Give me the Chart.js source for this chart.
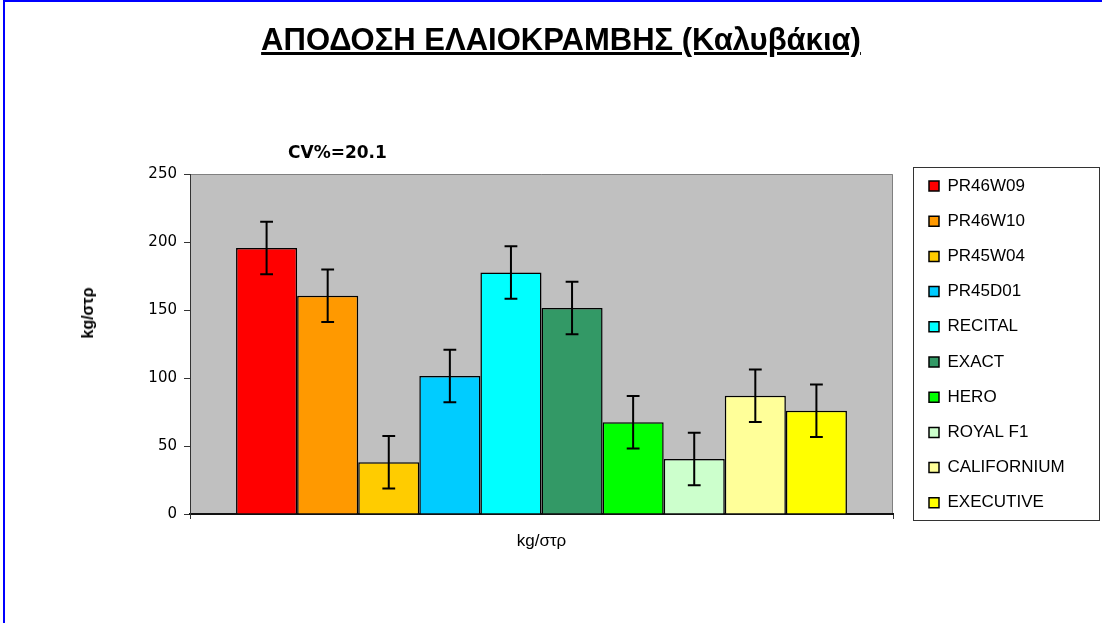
<!DOCTYPE html>
<html><head><meta charset="utf-8">
<script src="https://cdn.jsdelivr.net/npm/chart.js@4.4.1/dist/chart.umd.min.js"></script>
<style>
html,body{margin:0;padding:0;background:#fff;width:1102px;height:623px;overflow:hidden;}
#frame{position:absolute;left:3px;top:0;width:1200px;height:700px;border-left:2px solid #0000ff;border-top:2px solid #0000ff;}
#wrap{position:absolute;left:0;top:0;width:1102px;height:623px;}
#title{position:absolute;left:0;width:1122px;top:23.7px;text-align:center;font:bold 31px 'Liberation Sans',Arial,sans-serif;line-height:31px;text-decoration:underline;text-decoration-thickness:3px;text-underline-offset:2px;white-space:nowrap;color:#000;}
#cv{position:absolute;left:288px;top:144.3px;font:bold 17px 'DejaVu Sans',sans-serif;line-height:17px;white-space:nowrap;color:#000;}
#ytitle{position:absolute;left:88px;top:313px;transform:translate(-50%,-50%) rotate(-90deg);font:bold 16px 'Liberation Sans',Arial,sans-serif;white-space:nowrap;color:#000;}
</style></head>
<body>
<div id="frame"></div>
<div id="wrap"><canvas id="c" width="1102" height="623"></canvas></div>
<div id="title"></div>
<div id="cv"></div>
<div id="ytitle"></div>
<script>
const chartTitle = 'ΑΠΟΔΟΣΗ ΕΛΑΙΟΚΡΑΜΒΗΣ (Καλυβάκια)';
const cvLabel = 'CV%=20.1';
const yAxisTitle = 'kg/στρ';
const categories = ['kg/στρ'];
const varieties = ['PR46W09','PR46W10','PR45W04','PR45D01','RECITAL','EXACT','HERO','ROYAL F1','CALIFORNIUM','EXECUTIVE'];
const yields = [195.5, 160.5, 38, 101.5, 177.5, 151.5, 67.5, 40.5, 87, 76];
const errors = [19.3, 19.3, 19.3, 19.3, 19.3, 19.3, 19.3, 19.3, 19.3, 19.3];
const colors = ['#FF0000','#FF9900','#FFCC00','#00CCFF','#00FFFF','#339966','#00FF00','#CCFFCC','#FFFF99','#FFFF00'];
const yMin = 0, yMax = 250, yStep = 50;

document.getElementById('title').textContent = chartTitle;
document.getElementById('cv').textContent = cvLabel;
document.getElementById('ytitle').textContent = yAxisTitle;

Chart.defaults.font.family = "'Liberation Sans', Arial, sans-serif";
Chart.defaults.color = '#000';

const AREA = {left:190, right:893, top:174, bottom:514};
const LEG_PAD = 18.2;
const LEG_LEFT = 910.8;
const TOP_PAD = 65.8;

const bgPlugin = {
  id:'plotbg',
  beforeDraw(chart){
    const {ctx, chartArea:a} = chart;
    ctx.save();
    ctx.fillStyle = '#C0C0C0';
    ctx.fillRect(a.left, a.top, a.right-a.left, a.bottom-a.top);
    ctx.strokeStyle = '#808080';
    ctx.lineWidth = 1;
    ctx.beginPath();
    ctx.moveTo(a.left, a.top+0.5); ctx.lineTo(a.right-0.5, a.top+0.5); ctx.lineTo(a.right-0.5, a.bottom);
    ctx.stroke();
    ctx.restore();
  }
};
const errPlugin = {
  id:'errbars',
  afterDatasetsDraw(chart){
    const ctx = chart.ctx, ys = chart.scales.y;
    chart.data.datasets.forEach((ds,i)=>{
      const meta = chart.getDatasetMeta(i);
      meta.data.forEach((bar,j)=>{
        const v = ds.data[j], e = errors[i];
        const x = bar.x, yt = ys.getPixelForValue(v+e), yb = ys.getPixelForValue(v-e);
        ctx.save();
        ctx.strokeStyle = '#000'; ctx.lineWidth = 2;
        ctx.beginPath();
        ctx.moveTo(x, yt); ctx.lineTo(x, yb);
        ctx.moveTo(x-6.4, yt); ctx.lineTo(x+6.4, yt);
        ctx.moveTo(x-6.4, yb); ctx.lineTo(x+6.4, yb);
        ctx.stroke();
        ctx.restore();
      });
    });
  }
};
const legBorder = {
  id:'legborder',
  afterDraw(chart){
    const lg = chart.legend; if(!lg || !lg.legendHitBoxes.length) return;
    const hb = lg.legendHitBoxes;
    const ih = 17;
    const top = Math.round(hb[0].top + ih/2 - 18.7) + 0.5;
    const bot = Math.round(hb[hb.length-1].top + ih/2 + 17.3) + 0.5;
    const left = Math.round(lg.left + 2.5) + 0.5;
    const right = 1099.5;
    const ctx = chart.ctx;
    ctx.save(); ctx.strokeStyle = '#333'; ctx.lineWidth = 1;
    ctx.strokeRect(left, top, right-left, bot-top);
    ctx.restore();
  }
};

const datasets = varieties.map((name,i)=>({
  label:name, data:[yields[i]], backgroundColor:colors[i], borderColor:'#000', borderWidth:1.5,
  xAxisID:'x', yAxisID:'y'
}));

const chart = new Chart(document.getElementById('c'), {
  type:'bar',
  data:{labels:categories, datasets},
  plugins:[bgPlugin, errPlugin, legBorder],
  options:{
    responsive:false, animation:false,
    categoryPercentage:0.869, barPercentage:1,
    layout:{padding:{top:TOP_PAD, left:0, bottom:0, right:27}},
    plugins:{
      title:{display:false}, tooltip:{enabled:false},
      legend:{
        position:'right',
        labels:{
          font:{size:17, family:"'Liberation Sans', Arial, sans-serif"},
          color:'#000', boxWidth:10, boxHeight:10, padding:LEG_PAD,
          generateLabels(c){
            return Chart.defaults.plugins.legend.labels.generateLabels(c).map(l=>({...l, lineWidth:1.5, strokeStyle:'#000'}));
          }
        }
      }
    },
    scales:{
      x:{
        type:'category', position:'bottom',
        grid:{display:true, drawOnChartArea:false, drawTicks:true, tickLength:5, color:'#333', offset:true},
        border:{display:true, color:'#111', width:2},
        ticks:{font:{size:17}, padding:12.3, color:'#000'},
        afterFit(s){ s.height = 623 - AREA.bottom; }
      },
      xTop:{
        type:'category', position:'top', display:true,
        grid:{display:false}, border:{display:false}, ticks:{display:false},
        afterFit(s){ s.height = AREA.top - TOP_PAD; }
      },
      y:{
        type:'linear', position:'left', min:yMin, max:yMax,
        grid:{display:true, drawOnChartArea:false, drawTicks:true, tickLength:6, color:'#333'},
        border:{display:true, color:'#333', width:1},
        ticks:{stepSize:yStep, font:{size:15, family:"'DejaVu Sans', sans-serif"}, padding:7, color:'#000'},
        afterFit(s){ s.width = AREA.left; }
      },
      y2:{
        type:'linear', position:'right', display:true,
        grid:{display:false}, border:{display:false}, ticks:{display:false},
        afterFit(s){ s.width = LEG_LEFT - AREA.right; }
      }
    }
  }
});
const lw = chart.legend.width;
chart.options.layout.padding.right = 1102 - LEG_LEFT - lw;
chart.update();
</script>
</body></html>
